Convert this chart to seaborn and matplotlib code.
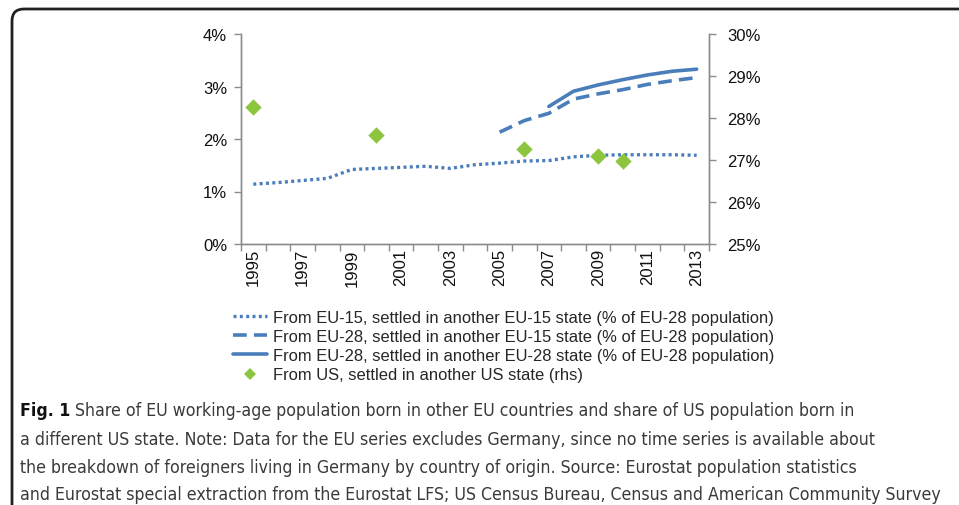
import numpy as np
import pandas as pd
import seaborn as sns
import matplotlib.pyplot as plt
from matplotlib.patches import FancyBboxPatch
from matplotlib.lines import Line2D
from matplotlib.transforms import IdentityTransform
from matplotlib.ticker import FixedLocator, PercentFormatter

# data
years = list(range(1995, 2014))
eu15_in_eu15 = [1.14, 1.17, 1.21, 1.25, 1.42, 1.44, 1.46, 1.48, 1.44, 1.51,
                1.54, 1.58, 1.59, 1.66, 1.69, 1.70, 1.70, 1.70, 1.69]
eu28_in_eu15_years = list(range(2005, 2014))
eu28_in_eu15 = [2.13, 2.35, 2.49, 2.76, 2.86, 2.94, 3.04, 3.11, 3.17]
eu28_in_eu28_years = list(range(2007, 2014))
eu28_in_eu28 = [2.62, 2.91, 3.03, 3.13, 3.22, 3.29, 3.33]
us_years = [1995, 2000, 2006, 2009, 2010]
us_share = [28.27, 27.60, 27.26, 27.10, 26.98]

labels = [
    "From EU-15, settled in another EU-15 state (% of EU-28 population)",
    "From EU-28, settled in another EU-15 state (% of EU-28 population)",
    "From EU-28, settled in another EU-28 state (% of EU-28 population)",
    "From US, settled in another US state (rhs)",
]
caption_lines = [
    "Share of EU working-age population born in other EU countries and share of US population born in",
    "a different US state. Note: Data for the EU series excludes Germany, since no time series is available about",
    "the breakdown of foreigners living in Germany by country of origin. Source: Eurostat population statistics",
    "and Eurostat special extraction from the Eurostat LFS; US Census Bureau, Census and American Community Survey",
]

blue = "#4a7ebb"
green = "#8cc63f"
grey = "#8c8c8c"

sns.set_theme(style="white")
plt.rcParams["font.family"] = ["Liberation Sans", "DejaVu Sans"]

fig = plt.figure(figsize=(9.59, 5.06), dpi=100)
ax = fig.add_axes([241 / 959, 1 - 245 / 506, 468 / 959, 210 / 506])
ax2 = ax.twinx()

dotted = (0, (0.9, 1.0))
dashed = (0, (3.8, 2.0))
sns.lineplot(x=years, y=eu15_in_eu15, ax=ax, color=blue, linewidth=2.4,
             linestyle=dotted)
sns.lineplot(x=eu28_in_eu15_years, y=eu28_in_eu15, ax=ax, color=blue,
             linewidth=2.6, linestyle=dashed)
sns.lineplot(x=eu28_in_eu28_years, y=eu28_in_eu28, ax=ax, color=blue,
             linewidth=2.6, linestyle="-")
sns.scatterplot(x=us_years, y=us_share, ax=ax2, color=green, marker="D",
                s=70, linewidth=0, zorder=5)

ax.set_xlim(1994.5, 2013.5)
ax.set_ylim(0, 4)
ax2.set_ylim(25, 30)
ax.set_yticks([0, 1, 2, 3, 4])
ax2.set_yticks([25, 26, 27, 28, 29, 30])
ax.yaxis.set_major_formatter(PercentFormatter(decimals=0))
ax2.yaxis.set_major_formatter(PercentFormatter(decimals=0))

ax.set_xticks(years[::2])
ax.set_xticklabels([str(y) for y in years[::2]], rotation=90)
ax.xaxis.set_minor_locator(FixedLocator(np.arange(1994.5, 2014, 1)))

for a in (ax, ax2):
    a.grid(False)
    a.spines["top"].set_visible(False)
    for s in ("left", "right", "bottom"):
        a.spines[s].set_color(grey)
        a.spines[s].set_linewidth(1)

ax.tick_params(axis="x", which="major", length=0, pad=3, labelsize=12,
               labelcolor="#111111")
ax.tick_params(axis="x", which="minor", bottom=True, length=5, width=1,
               color=grey, direction="out")
ax.tick_params(axis="y", left=True, length=5, width=1, color=grey,
               direction="out", pad=5, labelsize=12, labelcolor="#111111")
ax2.tick_params(axis="y", right=True, length=5, width=1, color=grey,
                direction="out", pad=8, labelsize=12, labelcolor="#111111")
ax.set_xlabel("")
ax.set_ylabel("")
ax2.set_ylabel("")

handles = [
    Line2D([], [], color=blue, linewidth=2.4, linestyle=dotted),
    Line2D([], [], color=blue, linewidth=2.6, linestyle=dashed),
    Line2D([], [], color=blue, linewidth=2.6),
    Line2D([], [], color=green, marker="D", markersize=6.5, linestyle="none",
           markeredgewidth=0),
]
fig.legend(handles, labels, loc="upper left",
           bbox_to_anchor=(233 / 959, 1 - 311 / 506), frameon=False,
           fontsize=11.9, handlelength=2.05, handletextpad=0.4,
           labelspacing=0.25, borderaxespad=0, borderpad=0)

# rounded frame around the figure
frame = FancyBboxPatch((12, -40), 1000, 506 - 10 + 40,
                       boxstyle="round,pad=0,rounding_size=12",
                       transform=IdentityTransform(), facecolor="none",
                       edgecolor="#231f20", linewidth=2, clip_on=False)
fig.add_artist(frame)

# caption: size chosen so the longest line ends near the right edge
cap_y = [411, 440, 468, 495]
cap_kw = dict(family="DejaVu Sans", fontstretch="condensed", va="center")
fig.canvas.draw()
renderer = fig.canvas.get_renderer()
probe = fig.text(0, 0, caption_lines[3], fontsize=14, **cap_kw)
cap_size = 14 * 928 / probe.get_window_extent(renderer).width
probe.remove()

fig_label = fig.text(20 / 959, 1 - cap_y[0] / 506, "Fig. 1", fontsize=cap_size,
                     fontweight="bold", color="#111111", **cap_kw)
bb = fig_label.get_window_extent(renderer)
for i, line in enumerate(caption_lines):
    x0 = (bb.x1 + 5) / 959 if i == 0 else 20 / 959
    fig.text(x0, 1 - cap_y[i] / 506, line, fontsize=cap_size,
             color="#3a3a3a", **cap_kw)

fig.savefig("out.png", dpi=100)
